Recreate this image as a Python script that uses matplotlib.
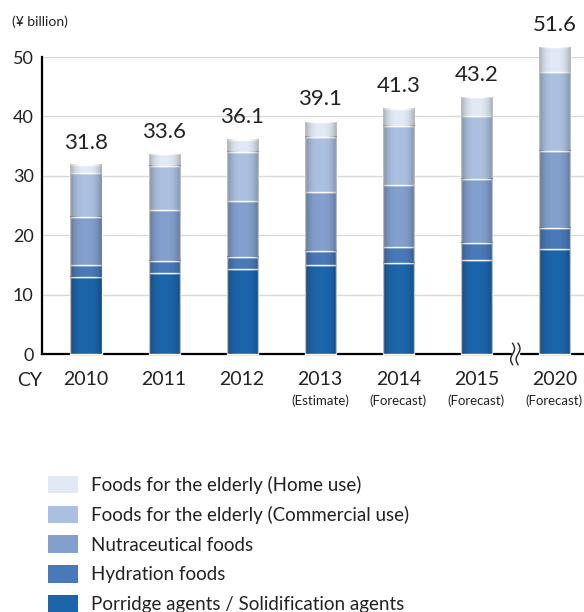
import numpy as np
import matplotlib
matplotlib.use("Agg")
import matplotlib.pyplot as plt
from matplotlib.patches import Patch

plt.rcParams["font.family"] = ["Lato", "DejaVu Sans"]

# data (¥ billion)
years = ["2010", "2011", "2012", "2013", "2014", "2015", "2020"]
notes = ["", "", "", "(Estimate)", "(Forecast)", "(Forecast)", "(Forecast)"]
totals = [31.8, 33.6, 36.1, 39.1, 41.3, 43.2, 51.6]
porridge = [13.0, 13.6, 14.3, 14.9, 15.4, 15.8, 17.6]
hydration = [1.9, 2.1, 2.1, 2.5, 2.6, 2.9, 3.6]
nutraceutical = [8.2, 8.5, 9.3, 9.8, 10.4, 10.8, 13.0]
commercial = [7.3, 7.5, 8.3, 9.4, 10.0, 10.6, 13.2]
home = [t - p - h - n - c for t, p, h, n, c in
        zip(totals, porridge, hydration, nutraceutical, commercial)]

series = [
    ("Porridge agents / Solidification agents", porridge, "#1d65ab"),
    ("Hydration foods", hydration, "#4a79b9"),
    ("Nutraceutical foods", nutraceutical, "#829fcd"),
    ("Foods for the elderly (Commercial use)", commercial, "#abc0e0"),
    ("Foods for the elderly (Home use)", home, "#e0e9f5"),
]

fig = plt.figure(figsize=(5.84, 6.12), dpi=100)
ax = fig.add_axes([42 / 584, 1 - 354 / 612, 1 - 42 / 584, (354 - 57) / 612])

x = np.arange(len(years))
bottom = np.zeros(len(years))
all_bars = []
for name, vals, col in series:
    bars = ax.bar(x, vals, bottom=bottom, width=0.4, color=col, edgecolor="white",
                  linewidth=1.0, zorder=3, clip_on=False, label=name)
    all_bars.extend(bars)
    bottom += np.array(vals)

# soft shading at the bar edges, like the reference
u = np.linspace(-1, 1, 64)
shade = np.zeros((1, 64, 4))
shade[0, :, 3] = 0.28 * np.abs(u) ** 3
for b in all_bars:
    x0, y0 = b.get_x(), b.get_y()
    ax.imshow(shade, extent=(x0, x0 + b.get_width(), y0, y0 + b.get_height()),
              aspect="auto", zorder=3.5, clip_on=False, interpolation="bilinear")

for xi, t in zip(x, totals):
    ax.annotate(f"{t:.1f}", (xi, t), xytext=(0, 9), textcoords="offset points",
                ha="center", va="bottom", fontsize=16, color="#222222",
                annotation_clip=False)

ax.set_xlim(-0.565, 6.38)
ax.set_ylim(0, 50)
ax.set_yticks([0, 10, 20, 30, 40, 50])
ax.yaxis.grid(True, color="#d8d8d8", linewidth=1.0, zorder=0)
ax.set_axisbelow(True)
ax.tick_params(axis="y", length=0, labelsize=13, pad=6, labelcolor="#222222")
ax.tick_params(axis="x", length=0, labelsize=14, pad=12, labelcolor="#222222")
ax.set_xticks(x)
ax.set_xticklabels(years)
for s in ["top", "right"]:
    ax.spines[s].set_visible(False)
ax.spines["left"].set_linewidth(1.6)
ax.spines["bottom"].set_linewidth(1.6)

for xi, n in zip(x, notes):
    if n:
        ax.annotate(n, (xi, 0), xytext=(0, -34), textcoords="offset points",
                    xycoords=("data", "axes fraction"), ha="center", va="center",
                    fontsize=9.5, color="#222222", annotation_clip=False)

fig.text(17 / 584, 1 - 380 / 612, "CY", fontsize=14, va="center", ha="left",
         color="#222222")
fig.text(12 / 584, 1 - 22 / 612, "(¥ billion)", fontsize=10, va="center",
         color="#222222")

# axis break between 2015 and 2020
yy = np.linspace(-1.8, 1.8, 40)
ax.fill_betweenx(yy, 5.5 - 0.045, 5.5 + 0.045, color="white", zorder=5,
                 clip_on=False)
for dx in (-0.035, 0.035):
    ax.plot(5.5 + dx + 0.025 * np.sin(yy / 1.8 * np.pi), yy, color="#222222",
            linewidth=1.0, zorder=6, clip_on=False)

ax.set_xlim(-0.565, 6.38)
ax.set_ylim(0, 50)

handles = [Patch(facecolor=col, edgecolor="none") for _, _, col in series][::-1]
labels = [name for name, _, _ in series][::-1]
fig.legend(handles, labels, loc="upper left", bbox_to_anchor=(48 / 584, 1 - 476 / 612),
           frameon=False, fontsize=13.5, handlelength=1.6, handleheight=1.05,
           handletextpad=0.7, labelspacing=0.62, borderpad=0, borderaxespad=0,
           labelcolor="#222222")

fig.savefig("out.png", dpi=100)
